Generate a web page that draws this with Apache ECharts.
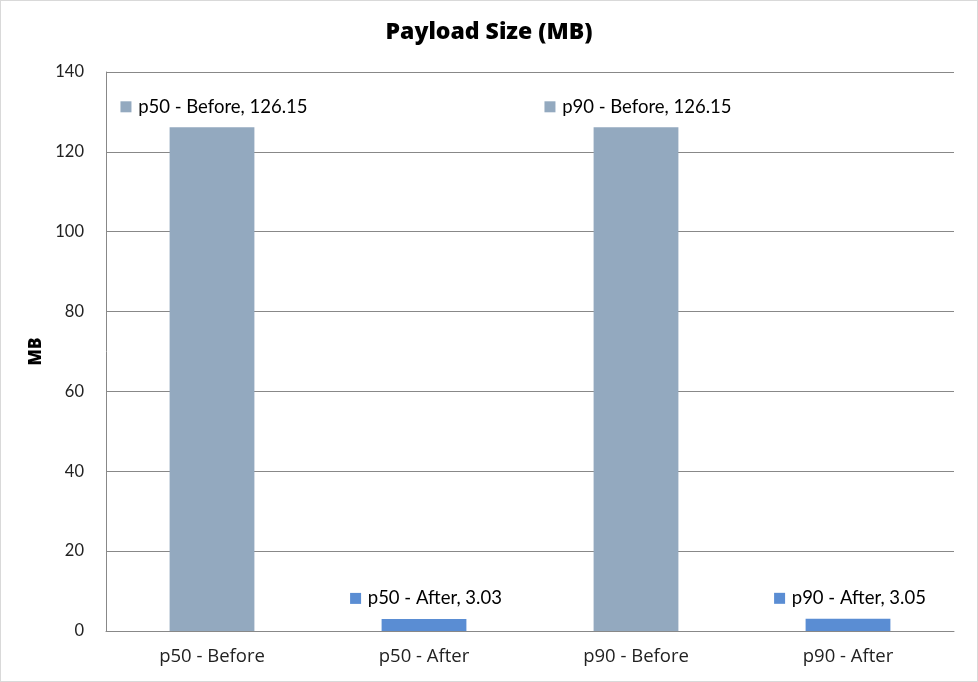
<!DOCTYPE html>
<html><head><meta charset="utf-8">
<script src="https://cdn.jsdelivr.net/npm/echarts@6/dist/echarts.min.js"></script>
<style>html,body{margin:0;padding:0;background:#fff}#c{width:976px;height:680px;border:1px solid #d9d9d9}</style>
</head><body><div id="c"></div>
<script>
const categories = ['p50 - Before', 'p50 - After', 'p90 - Before', 'p90 - After'];
const values = [126.15, 3.03, 126.15, 3.05];
const barColors = ['#93A9BF', '#5A8DD3', '#93A9BF', '#5A8DD3'];
const yTicks = {min: 0, max: 140, interval: 20};

const chart = echarts.init(document.getElementById('c'));
const font = 'Lato, "Open Sans", sans-serif';
chart.setOption({
  animation: false,
  title: {text: 'Payload Size (MB)', left: 'center', top: 15,
    textStyle: {fontFamily: '"Open Sans", sans-serif', fontSize: 23, fontWeight: 800, color: '#000'}},
  grid: {left: 105, right: 23, top: 71, bottom: 50, containLabel: false},
  xAxis: {type: 'category', data: categories,
    axisLine: {lineStyle: {color: '#888', width: 1}}, axisTick: {show: false},
    axisLabel: {fontFamily: '"Open Sans", sans-serif', fontSize: 18.5, color: '#222', margin: 16}},
  yAxis: {type: 'value', min: yTicks.min, max: yTicks.max, interval: yTicks.interval,
    name: 'MB', nameLocation: 'middle', nameGap: 57, nameRotate: 90,
    nameTextStyle: {fontFamily: '"Open Sans", sans-serif', fontSize: 17, fontWeight: 800, color: '#000'},
    axisLine: {show: true, lineStyle: {color: '#888'}}, axisTick: {show: false},
    axisLabel: {fontFamily: font, fontSize: 16.5, color: '#222', margin: 22},
    splitLine: {lineStyle: {color: '#888', width: 1}}},
  series: [{type: 'bar', barWidth: '40%',
    data: values.map((v, i) => ({value: v, itemStyle: {color: barColors[i]},
      label: {rich: {sq: {backgroundColor: barColors[i], width: 11, height: 11}}}})),
    label: {show: true, position: 'top', distance: 11, offset: [2, 0],
      formatter: p => '{sq|}  {t|' + p.name + ', ' + p.value + '}',
      rich: {t: {fontFamily: font, fontSize: 18.5, color: '#000'}}}}]
});
</script></body></html>
